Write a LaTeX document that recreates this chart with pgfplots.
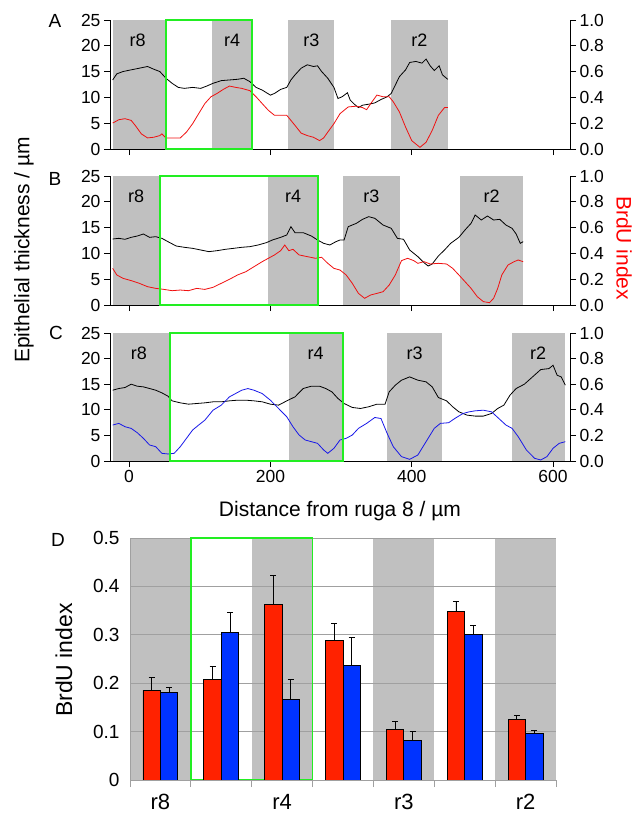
\documentclass[border=0pt]{standalone}
\usepackage{fontspec}
\setmainfont{Liberation Sans}
\usepackage{pgfplots}
\usepackage{pgfplotstable}
\pgfplotsset{compat=1.18}

\definecolor{band}{HTML}{C0C0C0}
\definecolor{boxgreen}{HTML}{22EE22}
\definecolor{barred}{HTML}{FF2200}
\definecolor{barblue}{HTML}{0033FF}
\definecolor{gridgray}{HTML}{A0A0A0}
\definecolor{linered}{HTML}{F01010}
\definecolor{lineblue}{HTML}{1818E8}

% thickness profiles (um) and BrdU index along the tissue
\pgfplotstableread{
x y
-23.2 13.38
-17.4 14.56
-8.7 15.01
2.9 15.34
14.5 15.66
26.1 15.99
34.8 15.47
43.5 15.01
52.2 13.71
60.9 12.73
69.6 11.94
78.3 11.75
89.9 11.94
101.4 11.75
110.1 12.21
118.8 12.73
130.4 13.25
142.0 13.38
153.6 13.51
162.3 13.71
171.0 13.05
179.7 11.94
188.4 11.42
200.0 10.44
205.8 10.77
214.5 11.55
223.2 11.94
229.0 13.38
234.8 14.36
243.5 15.66
252.2 16.32
260.9 15.99
266.7 16.12
272.5 15.01
281.2 13.71
289.9 11.94
295.6 9.79
301.4 10.12
309.0 10.90
313.0 9.46
318.8 8.68
324.6 8.03
330.4 8.49
339.1 8.68
347.8 8.94
356.5 9.59
365.2 10.12
371.0 10.77
376.8 12.40
382.6 14.03
391.3 15.34
397.1 16.77
405.8 16.97
414.5 16.64
420.3 17.43
426.1 16.12
431.9 15.21
438.8 16.12
443.5 14.36
451.0 13.51
}\Ablack

\pgfplotstableread{
x y
-23.2 0.201
-14.5 0.227
-5.8 0.235
2.9 0.222
8.7 0.183
17.4 0.117
26.1 0.086
34.8 0.091
43.5 0.104
46.4 0.117
52.2 0.086
60.9 0.086
72.5 0.086
81.2 0.131
89.9 0.196
98.5 0.274
107.2 0.352
115.9 0.405
124.6 0.431
133.3 0.462
142.0 0.488
150.7 0.478
159.4 0.470
171.0 0.452
179.7 0.405
188.4 0.352
197.1 0.300
205.8 0.261
214.5 0.261
223.2 0.261
229.0 0.222
234.8 0.183
243.5 0.123
252.2 0.104
260.9 0.091
269.6 0.065
275.4 0.086
281.2 0.131
289.9 0.196
298.5 0.274
310.1 0.326
321.7 0.332
330.4 0.321
336.2 0.305
342.0 0.352
350.7 0.418
359.4 0.405
368.1 0.405
373.9 0.366
382.6 0.287
391.3 0.170
400.0 0.065
411.6 0.013
420.3 0.052
429.0 0.144
437.7 0.261
446.4 0.321
451.0 0.321
}\Ared

\pgfplotstableread{
x y
-23.2 12.79
-14.5 12.92
-5.8 12.73
2.9 13.11
11.6 13.37
20.3 13.76
29.0 13.11
37.7 13.24
46.4 12.92
55.1 12.27
66.7 11.43
78.3 11.18
89.9 10.98
101.4 10.66
113.0 10.34
124.6 10.53
136.2 10.79
147.8 10.98
159.4 11.18
171.0 11.31
182.6 11.63
194.2 12.08
202.9 12.60
214.5 13.11
223.2 13.57
229.0 15.18
234.8 14.02
246.4 14.02
258.0 13.37
266.7 12.60
275.4 11.95
284.1 11.63
292.7 12.27
298.5 12.60
304.3 12.60
310.1 15.18
321.7 15.83
330.4 16.60
339.1 17.12
347.8 16.80
359.4 15.50
371.0 14.86
379.7 12.92
388.4 12.73
397.1 10.66
408.7 9.37
417.4 8.20
423.2 7.56
429.0 7.95
437.7 9.50
446.4 10.66
455.1 11.95
466.7 13.11
475.4 14.54
484.0 15.83
489.8 17.44
498.5 16.47
507.2 17.25
515.9 16.47
524.6 16.60
533.3 15.50
542.0 14.86
547.8 13.76
553.6 11.95
557.7 12.27
}\Bblack

\pgfplotstableread{
x y
-23.2 0.284
-17.4 0.233
-8.7 0.207
2.9 0.189
14.5 0.168
26.1 0.142
37.7 0.129
49.3 0.121
60.9 0.111
72.5 0.116
84.1 0.111
95.7 0.129
107.2 0.121
118.8 0.137
130.4 0.168
142.0 0.199
153.6 0.233
165.2 0.258
176.8 0.297
188.4 0.336
197.1 0.362
205.8 0.388
214.5 0.421
220.3 0.465
226.1 0.421
231.9 0.432
240.6 0.388
252.2 0.375
263.8 0.362
272.5 0.370
281.2 0.323
289.9 0.284
298.5 0.271
307.2 0.233
315.9 0.168
324.6 0.090
333.3 0.052
342.0 0.078
350.7 0.090
359.4 0.103
368.1 0.155
376.8 0.233
385.5 0.344
394.2 0.362
402.9 0.344
408.7 0.323
417.4 0.336
426.1 0.318
437.7 0.323
449.3 0.318
458.0 0.284
466.7 0.233
475.4 0.181
484.0 0.129
492.7 0.065
501.4 0.026
510.1 0.018
515.9 0.052
521.7 0.129
527.5 0.233
536.2 0.310
544.9 0.336
550.7 0.349
557.7 0.336
}\Bred

\pgfplotstableread{
x y
-23.2 13.83
-14.5 14.16
-5.8 14.35
2.9 15.00
11.6 14.61
20.3 14.48
29.0 14.16
37.7 13.83
46.4 13.31
55.1 12.66
60.9 11.75
72.5 11.36
84.1 11.10
95.7 11.23
107.2 11.36
118.8 11.56
130.4 11.56
142.0 11.75
153.6 11.88
165.2 11.88
176.8 11.75
188.4 11.56
200.0 11.10
211.6 10.91
223.2 11.75
234.8 12.53
246.4 14.16
258.0 14.61
269.6 14.61
278.3 14.16
287.0 13.51
295.6 12.21
304.3 11.23
315.9 10.46
327.5 10.26
339.1 10.59
350.7 11.10
362.3 11.10
368.1 13.51
376.8 14.81
385.5 15.78
397.1 16.43
408.7 15.78
420.3 15.46
429.0 14.48
437.7 12.40
449.3 11.75
458.0 10.59
466.7 9.61
478.3 8.96
489.8 8.77
501.4 8.77
513.0 9.29
521.7 10.26
530.4 10.91
539.1 12.86
547.8 14.16
559.4 15.00
571.0 16.43
582.6 17.86
594.2 18.05
600.0 18.70
605.8 16.75
611.6 16.43
617.4 14.81
}\Cblack

\pgfplotstableread{
x y
-23.2 0.281
-14.5 0.294
-5.8 0.268
2.9 0.255
11.6 0.221
20.3 0.177
29.0 0.125
37.7 0.112
46.4 0.060
55.1 0.055
63.8 0.060
72.5 0.112
81.2 0.177
89.9 0.242
98.5 0.281
107.2 0.319
118.8 0.397
130.4 0.436
142.0 0.501
150.7 0.527
159.4 0.553
168.1 0.566
176.8 0.553
188.4 0.527
200.0 0.475
211.6 0.410
223.2 0.345
231.9 0.268
240.6 0.203
249.3 0.164
258.0 0.151
266.7 0.138
275.4 0.086
281.2 0.060
289.9 0.099
298.5 0.164
307.2 0.177
315.9 0.203
324.6 0.255
336.2 0.294
347.8 0.340
356.5 0.332
365.2 0.216
373.9 0.112
385.5 0.034
397.1 0.013
408.7 0.047
420.3 0.151
431.9 0.255
440.6 0.294
452.2 0.299
460.9 0.332
472.5 0.371
481.2 0.384
489.8 0.392
501.4 0.397
513.0 0.384
521.7 0.340
533.3 0.281
542.0 0.255
550.7 0.190
562.3 0.086
573.9 0.021
582.6 0.008
591.3 0.034
600.0 0.099
608.7 0.138
617.4 0.151
}\Cblue

% panel D: mean BrdU index per region with error
\pgfplotstableread{
x red redp blue bluep
0 0.185 0.026 0.181 0.011
1 0.207 0.027 0.304 0.042
2 0.362 0.061 0.167 0.041
3 0.288 0.036 0.236 0.058
4 0.105 0.016 0.081 0.020
5 0.348 0.020 0.301 0.018
6 0.125 0.009 0.097 0.006
}\Dbars

\tikzset{rlbl/.style={font=\fontsize{18}{20}\selectfont}}

\pgfplotsset{
  profile/.style={
    scale only axis, width=460pt, height=129pt, anchor=north west,
    xmin=-27, xmax=624, ymin=0, ymax=25,
    axis x line*=bottom, axis y line*=left, axis on top,
    tick align=outside, major tick length=6pt,
    xtick={0,200,400,600}, ytick={0,5,...,25},
    tick style={black, line width=0.8pt},
    axis line style={black, line width=0.8pt, -},
    tick label style={font=\fontsize{17.5}{20}\selectfont},
    /pgf/number format/assume math mode=true,
  },
  brdu/.style={
    scale only axis, width=460pt, height=129pt, anchor=north west,
    xmin=-27, xmax=624, ymin=0, ymax=1, clip=false,
    axis x line=none, axis y line*=right,
    tick align=outside, major tick length=6pt,
    ytick={0,0.2,...,1},
    tick style={black, line width=0.8pt},
    axis line style={black, line width=0.8pt, -},
    tick label style={font=\fontsize{17.5}{20}\selectfont},
    yticklabel style={/pgf/number format/.cd, fixed, fixed zerofill, precision=1, assume math mode=true},
  },
}

\begin{document}
\begin{tikzpicture}
\path[use as bounding box] (0,0) rectangle (643pt,-816pt);

% ---------- A ----------
\begin{axis}[profile, at={(110pt,-20pt)}, xticklabels={}]
  \fill[band] (axis cs:-23,0) rectangle (axis cs:52,25);
  \fill[band] (axis cs:117,0) rectangle (axis cs:174,25);
  \fill[band] (axis cs:225.5,0) rectangle (axis cs:290,25);
  \fill[band] (axis cs:371,0) rectangle (axis cs:451,25);
  \node[rlbl] at (axis cs:12,21) {r8};
  \node[rlbl] at (axis cs:146,21) {r4};
  \node[rlbl] at (axis cs:258,21) {r3};
  \node[rlbl] at (axis cs:411,21) {r2};
  \addplot[black, line width=0.8pt] table {\Ablack};
\end{axis}
\begin{axis}[brdu, at={(110pt,-20pt)}]
  \addplot[linered, line width=0.8pt] table {\Ared};
  \draw[boxgreen, line width=1.8pt] (axis cs:52,0) rectangle (axis cs:174,1);
\end{axis}

% ---------- B ----------
\begin{axis}[profile, at={(110pt,-176pt)}, xticklabels={}]
  \fill[band] (axis cs:-23,0) rectangle (axis cs:43.5,25);
  \fill[band] (axis cs:197,0) rectangle (axis cs:267,25);
  \fill[band] (axis cs:303,0) rectangle (axis cs:383,25);
  \fill[band] (axis cs:468,0) rectangle (axis cs:558,25);
  \node[rlbl] at (axis cs:10,21) {r8};
  \node[rlbl] at (axis cs:232,21) {r4};
  \node[rlbl] at (axis cs:343,21) {r3};
  \node[rlbl] at (axis cs:513,21) {r2};
  \addplot[black, line width=0.8pt] table {\Bblack};
\end{axis}
\begin{axis}[brdu, at={(110pt,-176pt)}]
  \addplot[linered, line width=0.8pt] table {\Bred};
  \draw[boxgreen, line width=1.8pt] (axis cs:43.5,0) rectangle (axis cs:267,1);
\end{axis}

% ---------- C ----------
\begin{axis}[profile, at={(110pt,-333pt)}, height=128pt]
  \fill[band] (axis cs:-23,0) rectangle (axis cs:58,25);
  \fill[band] (axis cs:226,0) rectangle (axis cs:303,25);
  \fill[band] (axis cs:365,0) rectangle (axis cs:443.5,25);
  \fill[band] (axis cs:542,0) rectangle (axis cs:617,25);
  \node[rlbl] at (axis cs:14,21) {r8};
  \node[rlbl] at (axis cs:264,21) {r4};
  \node[rlbl] at (axis cs:404,21) {r3};
  \node[rlbl] at (axis cs:579,21) {r2};
  \addplot[black, line width=0.8pt] table {\Cblack};
\end{axis}
\begin{axis}[brdu, at={(110pt,-333pt)}, height=128pt]
  \addplot[lineblue, line width=0.8pt] table {\Cblue};
  \draw[boxgreen, line width=1.8pt] (axis cs:58,0) rectangle (axis cs:303,1);
\end{axis}

% ---------- D ----------
\begin{axis}[
  at={(130pt,-538pt)}, anchor=north west, scale only axis,
  width=426pt, height=242pt,
  xmin=-0.5, xmax=6.5, ymin=0, ymax=0.5, clip=false,
  ybar=0pt, bar width=0.287,
  axis x line*=bottom, axis y line*=left, axis on top,
  axis line style={gridgray, line width=1pt, -},
  tick align=outside,
  xtick={-0.5,0.5,1.5,2.5,3.5,4.5,5.5,6.5}, xticklabels={},
  x tick style={gridgray, line width=1pt}, major tick length=7pt,
  extra x ticks={0,2,4,6}, extra x tick labels={r8,r4,r3,r2},
  extra x tick style={major tick length=0pt, tick label style={font=\fontsize{22}{24}\selectfont, yshift=-11pt}},
  ytick={0,0.1,0.2,0.3,0.4,0.5}, y tick style={draw=none},
  yticklabel style={font=\fontsize{19}{22}\selectfont},
  /pgf/number format/assume math mode=true,
]
  \fill[band] (axis cs:-0.5,0) rectangle (axis cs:0.5,0.5);
  \fill[band] (axis cs:1.5,0) rectangle (axis cs:2.5,0.5);
  \fill[band] (axis cs:3.5,0) rectangle (axis cs:4.5,0.5);
  \fill[band] (axis cs:5.5,0) rectangle (axis cs:6.5,0.5);
  \draw[gridgray, line width=1pt] (axis cs:-0.5,0.1) -- (axis cs:6.5,0.1);
  \draw[gridgray, line width=1pt] (axis cs:-0.5,0.2) -- (axis cs:6.5,0.2);
  \draw[gridgray, line width=1pt] (axis cs:-0.5,0.3) -- (axis cs:6.5,0.3);
  \draw[gridgray, line width=1pt] (axis cs:-0.5,0.4) -- (axis cs:6.5,0.4);
  \draw[gridgray, line width=1pt] (axis cs:-0.5,0.5) -- (axis cs:6.5,0.5);
  \draw[boxgreen, line width=1.8pt] (axis cs:0.5,0) rectangle (axis cs:2.5,0.5);
  \addplot[fill=barred, draw=black, line width=0.8pt,
    error bars/.cd, y dir=plus, y explicit,
    error bar style={black, line width=0.8pt},
    error mark options={rotate=90, black, mark size=3pt, line width=0.8pt}]
    table[x=x, y=red, y error=redp] {\Dbars};
  \addplot[fill=barblue, draw=black, line width=0.8pt,
    error bars/.cd, y dir=plus, y explicit,
    error bar style={black, line width=0.8pt},
    error mark options={rotate=90, black, mark size=3pt, line width=0.8pt}]
    table[x=x, y=blue, y error=bluep] {\Dbars};
\end{axis}

% ---------- labels ----------
\node[font=\fontsize{19}{22}\selectfont] at (55pt,-21pt) {A};
\node[font=\fontsize{19}{22}\selectfont] at (55pt,-179pt) {B};
\node[font=\fontsize{19}{22}\selectfont] at (56pt,-333pt) {C};
\node[font=\fontsize{19}{22}\selectfont] at (58pt,-540pt) {D};
\node[font=\fontsize{21}{24}\selectfont, rotate=90] at (24pt,-250pt) {Epithelial thickness / µm};
\node[font=\fontsize{21}{24}\selectfont, rotate=-90, text=red] at (624pt,-248pt) {BrdU index};
\node[font=\fontsize{21}{24}\selectfont] at (340pt,-511pt) {Distance from ruga 8 / µm};
\node[font=\fontsize{23}{26}\selectfont, rotate=90] at (64pt,-660pt) {BrdU index};
\end{tikzpicture}
\end{document}
